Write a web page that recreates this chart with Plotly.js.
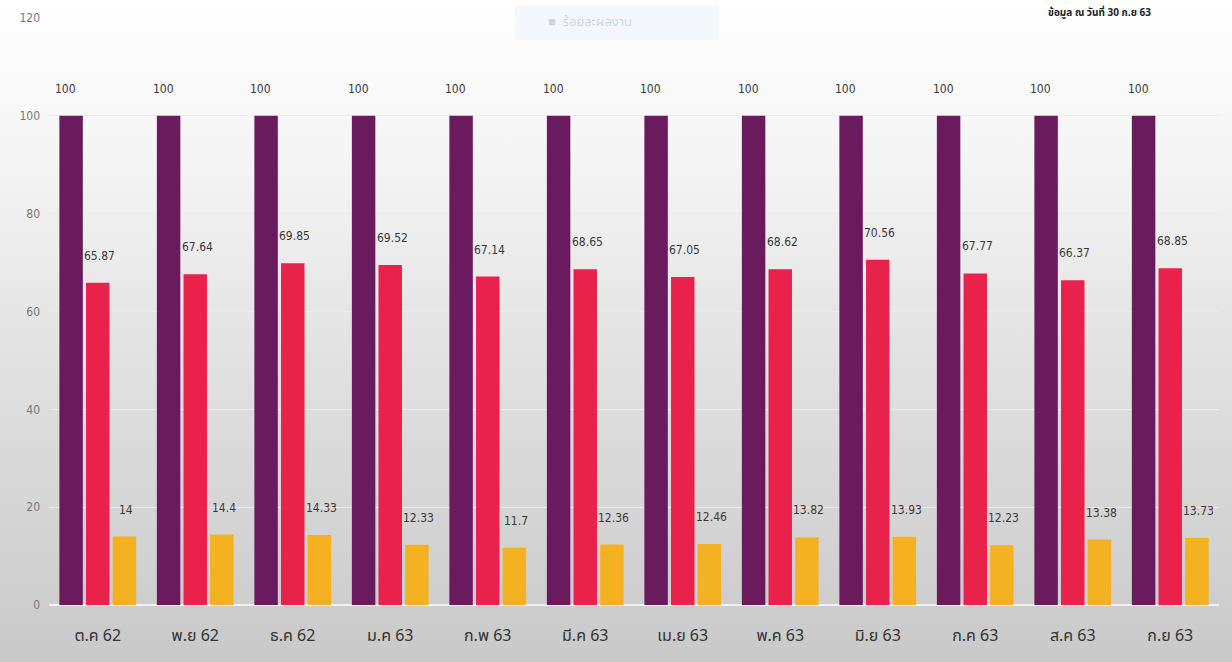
<!DOCTYPE html>
<html>
<head>
<meta charset="utf-8">
<script src="https://cdn.plot.ly/plotly-3.0.1.min.js"></script>
<style>
html,body{margin:0;padding:0;width:1232px;height:662px;overflow:hidden;
background:linear-gradient(to bottom,#ffffff 0%,#f4f4f4 25%,#dedede 60%,#c9c9c9 100%);}
#chart{width:1232px;height:662px;}
</style>
</head>
<body>
<div id="chart"></div>
<script>
const categories = ["ต.ค 62","พ.ย 62","ธ.ค 62","ม.ค 63","ก.พ 63","มี.ค 63","เม.ย 63","พ.ค 63","มิ.ย 63","ก.ค 63","ส.ค 63","ก.ย 63"];
const seriesA = [100,100,100,100,100,100,100,100,100,100,100,100];
const seriesB = [65.87,67.64,69.85,69.52,67.14,68.65,67.05,68.62,70.56,67.77,66.37,68.85];
const seriesC = [14,14.4,14.33,12.33,11.7,12.36,12.46,13.82,13.93,12.23,13.38,13.73];
const yTicks = [0,20,40,60,80,100,120];

const colors = ["#6a1b5e","#e9224b","#f4b223"];
const series = [seriesA, seriesB, seriesC];
const labelOffsets = [-0.33, 0.02, 0.29];

const traces = series.map((s,k)=>({
  type:'bar', x:categories, y:s, marker:{color:colors[k]},
  hoverinfo:'none', showlegend:false
}));

const annotations = [];
series.forEach((s,k)=>{
  s.forEach((v,i)=>{
    annotations.push({
      x:i+labelOffsets[k], y:v, xref:'x', yref:'y', text:String(v),
      showarrow:false, yanchor:'bottom', yshift:18,
      font:{family:'DejaVu Sans Condensed, sans-serif', size:12, color:'#3a3a3a'}
    });
  });
});
annotations.push({xref:'paper',yref:'paper',x:0.462,y:0.993,xanchor:'center',yanchor:'middle',
  text:'■  ร้อยละผลงาน', showarrow:false, font:{family:'Noto Sans Thai, Tahoma, sans-serif',size:13,color:'rgba(150,170,205,0.45)'}});
annotations.push({xref:'paper',yref:'paper',x:0.898,y:1.0,xanchor:'center',yanchor:'top',yshift:15,
  text:'<b>ข้อมูล ณ วันที่ 30 ก.ย 63</b>', showarrow:false, font:{family:'Noto Sans Thai, Tahoma, sans-serif',size:10,color:'#222'}});

const layout = {
  width:1232, height:662,
  margin:{l:49,r:13,t:18,b:57},
  paper_bgcolor:'rgba(0,0,0,0)', plot_bgcolor:'rgba(0,0,0,0)',
  barmode:'group', bargap:0.18, bargroupgap:0.12,
  xaxis:{type:'category', tickfont:{family:'Noto Sans Thai, Tahoma, sans-serif', size:16, color:'#333'},
    showgrid:false, zeroline:false, showline:false, ticks:'', ticklabelstandoff:19},
  yaxis:{range:[0,120], tickvals:yTicks, ticktext:yTicks.map(String),
    tickfont:{family:'DejaVu Sans Condensed, sans-serif', size:12, color:'#777'},
    showgrid:true, gridcolor:'rgba(235,235,235,0.9)', gridwidth:1,
    zeroline:true, zerolinecolor:'#f2f2f2', zerolinewidth:2, ticks:'', ticklabelstandoff:8},
  shapes:[{type:'rect',xref:'paper',yref:'paper',x0:0.398,x1:0.572,y0:0.962,y1:1.022,
    fillcolor:'rgba(225,235,250,0.35)',line:{width:0},layer:'below'}],
  annotations:annotations
};
Plotly.newPlot('chart', traces, layout, {staticPlot:true, displayModeBar:false});
</script>
</body>
</html>
